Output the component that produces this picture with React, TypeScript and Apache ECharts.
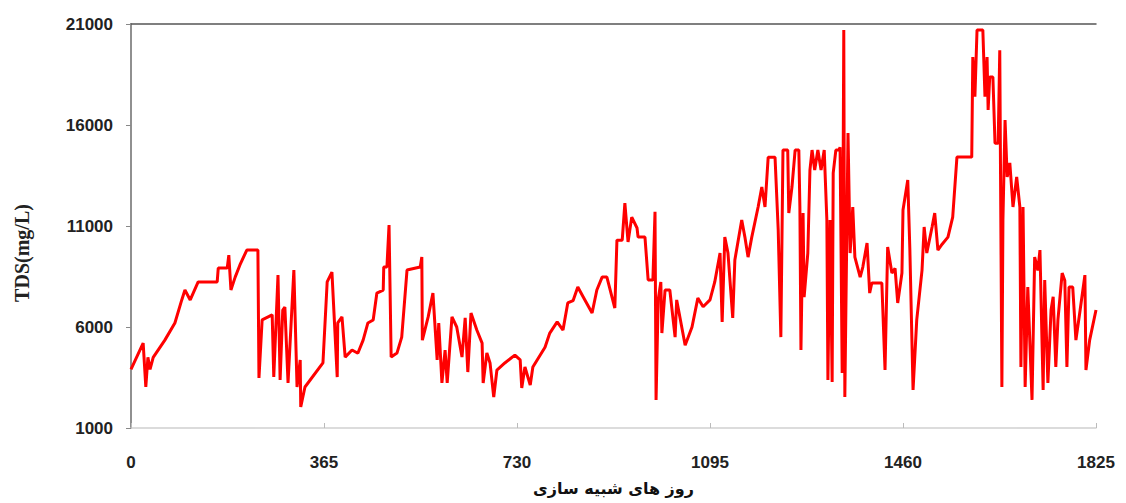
import React, { useEffect, useRef } from "react";
import * as echarts from "echarts";

const days: number[] = [
  0, 23, 28, 32, 36, 42, 64, 83, 96, 102, 112, 127, 163, 165, 182, 185, 189, 197, 206, 219,
  240, 242, 248, 267, 270, 278, 282, 287, 291, 297, 308, 314, 320, 321, 329, 363, 371, 380, 390, 391,
  399, 405, 418, 429, 439, 448, 458, 465, 477, 478, 484, 488, 492, 503, 512, 522, 547, 550, 551, 562,
  571, 579, 582, 588, 594, 598, 607, 616, 626, 632, 637, 643, 654, 664, 666, 673, 679, 686, 692, 707,
  726, 736, 739, 745, 755, 760, 783, 792, 806, 817, 826, 836, 845, 855, 872, 881, 891, 900, 915, 919,
  929, 934, 940, 947, 957, 959, 972, 978, 987, 991, 993, 997, 1002, 1004, 1010, 1019, 1029, 1032, 1048, 1061,
  1072, 1082, 1095, 1104, 1114, 1118, 1123, 1129, 1138, 1142, 1155, 1161, 1167, 1174, 1186, 1193, 1199, 1205, 1218, 1224,
  1229, 1233, 1242, 1244, 1250, 1256, 1263, 1265, 1267, 1271, 1273, 1280, 1284, 1288, 1293, 1299, 1305, 1311, 1316, 1318,
  1322, 1326, 1328, 1333, 1339, 1341, 1345, 1348, 1350, 1356, 1360, 1365, 1369, 1379, 1384, 1392, 1397, 1401, 1420, 1426,
  1431, 1439, 1445, 1450, 1458, 1460, 1469, 1473, 1479, 1486, 1496, 1500, 1505, 1515, 1520, 1526, 1534, 1545, 1554, 1562,
  1590, 1592, 1596, 1600, 1611, 1615, 1619, 1621, 1624, 1630, 1634, 1640, 1643, 1647, 1649, 1653, 1657, 1662, 1668, 1675,
  1681, 1683, 1687, 1691, 1696, 1704, 1709, 1715, 1719, 1725, 1728, 1734, 1740, 1744, 1749, 1753, 1761, 1766, 1770, 1774,
  1781, 1787, 1795, 1804, 1806, 1813, 1825,
];

const tds: number[] = [
  3900, 5200, 3030, 4500, 3900, 4500, 5350, 6200, 7340, 7830, 7340, 8230, 8230, 8920, 8920, 9560, 7830, 8470, 9070, 9810,
  9810, 3475, 6350, 6600, 3525, 8570, 3380, 6840, 6990, 3230, 8820, 3030, 4370, 2040, 3030, 4220, 8230, 8720, 3520, 6200,
  6500, 4510, 4860, 4700, 5350, 6200, 6350, 7680, 7830, 8970, 8970, 11050, 4510, 4710, 5500, 8820, 8970, 9460, 5350, 6500,
  7680, 4370, 6200, 3230, 4860, 3230, 6500, 6000, 4510, 6450, 3770, 6690, 5850, 5200, 3230, 4710, 4220, 2530, 3870, 4220,
  4610, 4370, 2980, 4020, 3130, 4020, 5000, 5700, 6250, 5850, 7190, 7300, 7980, 7500, 6690, 7830, 8470, 8470, 6940, 10300,
  10300, 12130, 10210, 11440, 10900, 10450, 10450, 8330, 8330, 11700, 2390, 7340, 8230, 5700, 7830, 7830, 5500, 7340, 5100, 6000,
  7430, 7000, 7340, 8230, 9660, 6250, 10450, 9660, 6450, 9320, 11300, 10450, 9460, 10450, 11940, 12930, 11940, 14400, 14400, 10800,
  5500, 14760, 14760, 11640, 12930, 14760, 14760, 11940, 4860, 11640, 7480, 9660, 13770, 14760, 13770, 14760, 13770, 14760, 11300, 3380,
  11300, 3280, 13620, 14760, 14760, 14900, 3720, 20700, 2530, 15600, 9660, 11940, 9460, 8470, 8970, 10160, 7680, 8180, 8180, 3870,
  9960, 8670, 8900, 7190, 8670, 11790, 13280, 9810, 2880, 6350, 8820, 10950, 9660, 10950, 11640, 9810, 10100, 10450, 11440, 14410,
  14410, 19360, 17400, 20700, 20700, 17400, 19360, 16740, 18380, 18380, 15100, 15100, 19700, 3030, 11300, 16250, 13430, 14120, 11940, 13430,
  11940, 4020, 11940, 3030, 7980, 2390, 9460, 8800, 9810, 2880, 8330, 3230, 6840, 7500, 4020, 6350, 8670, 8300, 4020, 7980,
  7980, 5350, 6840, 8570, 3870, 5350, 6840,
];

const xMin = 0;
const xMax = 1825;
const xStep = 365;
const yMin = 1000;
const yMax = 21000;
const yStep = 5000;
const yTitle = "TDS(mg/L)";
const xTitle = "روز های شبیه سازی";

export default function App() {
  const ref = useRef<HTMLDivElement>(null);
  useEffect(() => {
    if (!ref.current) return;
    const chart = echarts.init(ref.current, null, { renderer: "svg" });
    const labelFont = {
      fontFamily: "'Liberation Sans', Arial, sans-serif",
      fontWeight: "bold" as const,
      fontSize: 17,
      color: "#222",
      formatter: (v: number) => String(v),
    };
    chart.setOption({
      animation: false,
      backgroundColor: "#ffffff",
      grid: { left: 131, right: 30, top: 24, bottom: 75 },
      xAxis: [
        {
          type: "value",
          min: xMin,
          max: xMax,
          interval: xStep,
          name: xTitle,
          nameLocation: "middle",
          nameGap: 52,
          nameTextStyle: {
            fontFamily: "'DejaVu Sans', sans-serif",
            fontWeight: "bold",
            fontSize: 16,
            color: "#111",
          },
          axisLine: { show: true, lineStyle: { color: "#d0d0d0", width: 1.5 } },
          axisTick: { show: true, inside: true, length: 5, lineStyle: { color: "#bbb" } },
          axisLabel: { ...labelFont, margin: 26 },
          splitLine: { show: false },
        },
        {
          type: "value",
          position: "top",
          min: xMin,
          max: xMax,
          axisLine: { show: true, lineStyle: { color: "#555", width: 1.5 } },
          axisTick: { show: false },
          axisLabel: { show: false },
          splitLine: { show: false },
        },
      ],
      yAxis: [
        {
          type: "value",
          min: yMin,
          max: yMax,
          interval: yStep,
          axisLine: { show: true, lineStyle: { color: "#888", width: 1.5 } },
          axisTick: { show: true, length: 5, lineStyle: { color: "#888" } },
          axisLabel: { ...labelFont, margin: 18 },
          splitLine: { show: false },
        },
        {
          type: "value",
          position: "right",
          min: yMin,
          max: yMax,
          axisLine: { show: true, lineStyle: { color: "#888", width: 1.5 } },
          axisTick: { show: false },
          axisLabel: { show: false },
          splitLine: { show: false },
        },
      ],
      graphic: [
        {
          type: "text",
          x: 22,
          y: 253,
          rotation: Math.PI / 2,
          style: {
            text: yTitle,
            fontFamily: "'Liberation Serif', 'Times New Roman', serif",
            fontWeight: "bold",
            fontSize: 20,
            fill: "#222",
            align: "center",
            verticalAlign: "middle",
          },
        },
      ],
      series: [
        {
          type: "line",
          xAxisIndex: 0,
          yAxisIndex: 0,
          data: days.map((d, i) => [d, tds[i]]),
          showSymbol: false,
          symbol: "none",
          lineStyle: { color: "#ff0000", width: 3 },
          itemStyle: { color: "#ff0000" },
        },
      ],
    });
    return () => chart.dispose();
  }, []);
  return (
    <div
      ref={ref}
      style={{ position: "fixed", left: 0, top: 0, width: 1126, height: 503, background: "#fff" }}
    />
  );
}
